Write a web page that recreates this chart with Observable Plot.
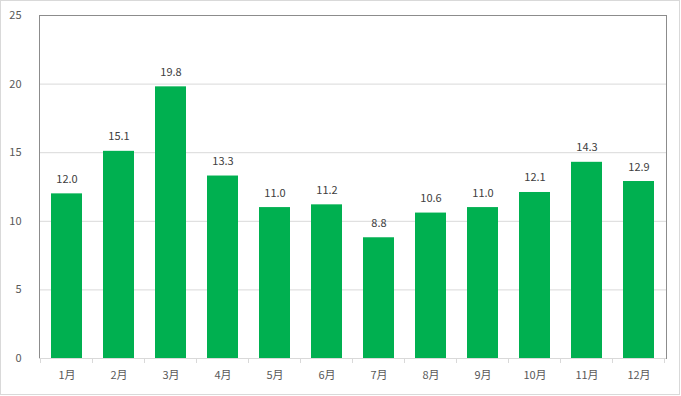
<!DOCTYPE html>
<html><head><meta charset="utf-8">
<script src="https://cdn.jsdelivr.net/npm/d3@7"></script>
<script src="https://cdn.jsdelivr.net/npm/@observablehq/plot@0.6"></script>
<style>
html,body{margin:0;padding:0;background:#fff;}
</style>
</head><body>
<div id="chart"></div>
<script>
const months = ["1月","2月","3月","4月","5月","6月","7月","8月","9月","10月","11月","12月"];
const values = [12.0,15.1,19.8,13.3,11.0,11.2,8.8,10.6,11.0,12.1,14.3,12.9];
const yTicks = [0,5,10,15,20,25];

const data = months.map((m,i)=>({month:m, value:values[i]}));
const font = "'Noto Sans CJK JP','Noto Sans',sans-serif";

const plot = Plot.plot({
  width: 681, height: 396,
  marginLeft: 39, marginRight: 15, marginTop: 15, marginBottom: 38,
  style: {fontFamily: font, fontSize: "11px", color: "#595959", background: "#fff"},
  x: {domain: months, paddingInner: 0.4, paddingOuter: 0.2, label: null, tickSize: 0, tickPadding: 13},
  y: {domain: [0,25], ticks: yTicks, label: null, tickSize: 0, tickPadding: 18},
  marks: [
    Plot.ruleY(yTicks.filter(d=>d>0 && d<25), {stroke:"#d9d9d9", strokeWidth:1}),
    Plot.frame({stroke:"#8c8c8c", strokeWidth:1}),
    Plot.ruleY([0], {stroke:"#d9d9d9", strokeWidth:1}),
    Plot.barY(data, {x:"month", y:"value", fill:"#00B050"}),
    Plot.text(data, {x:"month", y:"value", text:d=>d.value.toFixed(1), dy:-11, lineAnchor:"bottom", fill:"#404040", fontSize:11})
  ]
});

const svg = d3.select(plot);
const xs = plot.scale("x");
const step = xs.step;
const bandStart = months.map(m => xs.apply(m) + xs.bandwidth/2 - step/2);
bandStart.push(bandStart[bandStart.length-1] + step);
const g = svg.append("g").attr("stroke","#d9d9d9");
bandStart.forEach(x=>{
  g.append("line").attr("x1",x).attr("x2",x).attr("y1",358).attr("y2",363);
});
svg.append("rect").attr("x",0.5).attr("y",0.5).attr("width",679).attr("height",394)
  .attr("fill","none").attr("stroke","#d9d9d9");
document.getElementById("chart").appendChild(plot);
</script>
</body></html>
